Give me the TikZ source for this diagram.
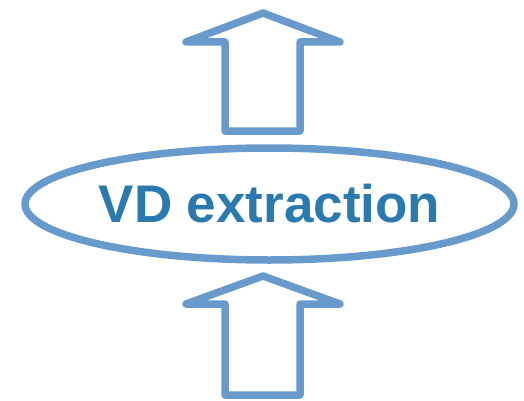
\documentclass[tikz,border=0pt]{standalone}
\usepackage{fontspec}
\setmainfont{Liberation Sans}
\usetikzlibrary{shapes.geometric}
\definecolor{strokeblue}{RGB}{104,155,204}
\definecolor{textblue}{RGB}{42,122,176}
\begin{document}
\begin{tikzpicture}[x=1pt,y=-1pt,
  outline/.style={draw=strokeblue,line width=7.5pt,line join=round,line cap=round},
  bigarrow/.style={outline,fill=white}]
\useasboundingbox (0,0) rectangle (524,401);
% top arrow
\draw[bigarrow] (263,13) -- (340,42) -- (300,42) -- (300,131) -- (225,131) -- (225,42) -- (186,42) -- cycle;
% bottom arrow
\draw[bigarrow] (263,276) -- (340,304) -- (300,304) -- (300,395) -- (225,395) -- (225,304) -- (186,304) -- cycle;
% ellipse with label
\node[ellipse,outline,fill=white,minimum width=489pt,minimum height=112pt,inner sep=0pt,
      font=\fontsize{53}{60}\selectfont\bfseries,text=textblue] (vd) at (269.5,204) {VD extraction};
\end{tikzpicture}
\end{document}
